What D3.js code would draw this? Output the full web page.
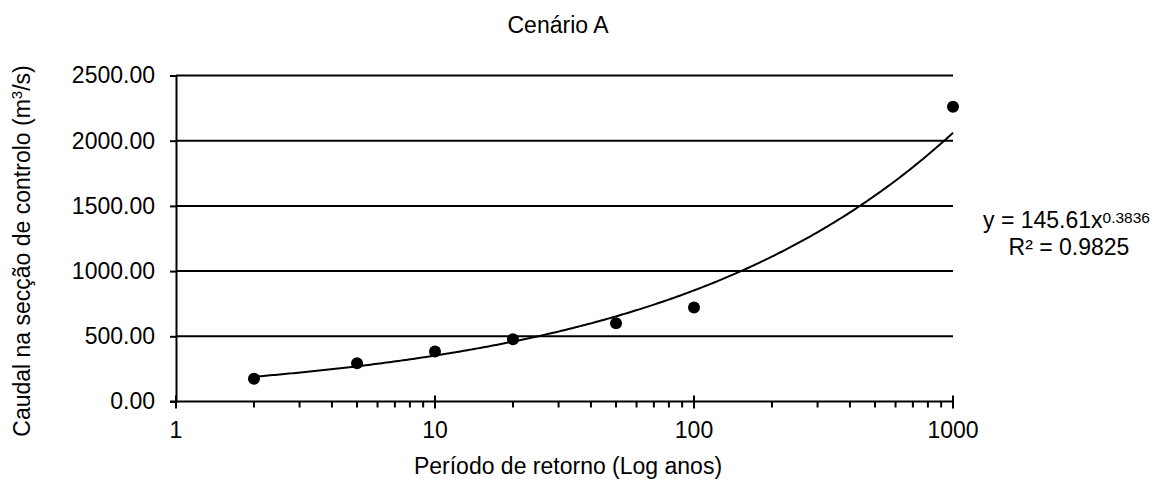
<!DOCTYPE html>
<html>
<head>
<meta charset="utf-8">
<script src="https://cdn.jsdelivr.net/npm/d3@7"></script>
<style>
  body { margin: 0; background: #fff; }
  svg { font-family: "Liberation Sans", Arial, sans-serif; }
</style>
</head>
<body>
<svg id="chart" width="1157" height="479"></svg>
<script>
// return periods (years) and flows (m3/s)
const periods = [2, 5, 10, 20, 50, 100, 1000];
const flows = [174, 294, 383, 477, 600, 720, 2260];
const yTicks = [0, 500, 1000, 1500, 2000, 2500];
const xTicks = [1, 10, 100, 1000];
const trendA = 145.61;
const trendB = 0.3836;
const r2 = 0.9825;

const svg = d3.select("#chart");
const plotLeft = 176, plotRight = 953, plotTop = 75.5, plotBottom = 401.5;
const fs = 23;

const x = d3.scaleLog().domain([1, 1000]).range([plotLeft, plotRight]);
const y = d3.scaleLinear().domain([0, 2500]).range([plotBottom, plotTop]);

// gridlines
svg.append("g")
    .selectAll("line")
    .data(yTicks.slice(1))
    .enter()
    .append("line")
    .attr("x1", plotLeft)
    .attr("x2", plotRight)
    .attr("y1", (d) => y(d))
    .attr("y2", (d) => y(d))
    .attr("stroke", "#000")
    .attr("stroke-width", 2);

// y axis
const yAxis = svg.append("g")
    .attr("transform", `translate(${plotLeft},0)`)
    .call(d3.axisLeft(y).tickValues(yTicks).tickFormat(d3.format(".2f")).tickSize(6).tickPadding(15));
yAxis.select(".domain").attr("stroke-width", 2);
yAxis.selectAll(".tick line").attr("stroke-width", 2);
yAxis.selectAll("text")
    .attr("font-size", fs)
    .attr("font-family", "Liberation Sans, Arial, sans-serif")
    .attr("fill", "#000");

// x axis, minor ticks
const minor = [];
for (let dec = 1; dec < 1000; dec *= 10) {
    for (let m = 2; m <= 9; m++) minor.push(dec * m);
}
const xAxis = svg.append("g")
    .attr("transform", `translate(0,${plotBottom})`);
xAxis.append("line")
    .attr("x1", plotLeft - 6).attr("x2", plotRight)
    .attr("stroke", "#000").attr("stroke-width", 2);
xAxis.selectAll(".minor")
    .data(minor)
    .enter()
    .append("line")
    .attr("x1", (d) => x(d)).attr("x2", (d) => x(d))
    .attr("y1", 0).attr("y2", 6)
    .attr("stroke", "#000").attr("stroke-width", 2);
xAxis.selectAll(".major")
    .data(xTicks)
    .enter()
    .append("line")
    .attr("x1", (d) => x(d)).attr("x2", (d) => x(d))
    .attr("y1", -6).attr("y2", 7)
    .attr("stroke", "#000").attr("stroke-width", 2);
xAxis.selectAll("text")
    .data(xTicks)
    .enter()
    .append("text")
    .attr("x", (d) => x(d))
    .attr("y", 36.5)
    .attr("text-anchor", "middle")
    .attr("font-size", fs)
    .text((d) => d);

// power trendline
const trend = d3.range(0, 301).map((i) => {
    const t = Math.pow(10, Math.log10(2) + i * (3 - Math.log10(2)) / 300);
    return [t, trendA * Math.pow(t, trendB)];
});
svg.append("path")
    .datum(trend)
    .attr("fill", "none")
    .attr("stroke", "#000")
    .attr("stroke-width", 2)
    .attr("d", d3.line().x((d) => x(d[0])).y((d) => y(d[1])));

// points
svg.append("g")
    .selectAll("circle")
    .data(periods)
    .enter()
    .append("circle")
    .attr("cx", (d) => x(d))
    .attr("cy", (d, i) => y(flows[i]))
    .attr("r", 6)
    .attr("fill", "#000");

// title and axis labels
svg.append("text")
    .attr("x", 558).attr("y", 33)
    .attr("text-anchor", "middle")
    .attr("font-size", fs)
    .text("Cenário A");

svg.append("text")
    .attr("x", 568).attr("y", 474)
    .attr("text-anchor", "middle")
    .attr("font-size", fs)
    .text("Período de retorno (Log anos)");

const yl = svg.append("text")
    .attr("transform", "translate(30,251) rotate(-90)")
    .attr("text-anchor", "middle")
    .attr("font-size", fs);
yl.append("tspan").text("Caudal na secção de controlo (m");
yl.append("tspan").attr("font-size", 15).attr("dy", -8).text("3");
yl.append("tspan").attr("dy", 8).text("/s)");

// equation label
const eq = svg.append("text")
    .attr("x", 983).attr("y", 228)
    .attr("font-size", fs);
eq.append("tspan").text(`y = ${trendA}x`);
eq.append("tspan").attr("font-size", 15.5).attr("dy", -5).text(trendB);

svg.append("text")
    .attr("x", 1069).attr("y", 255)
    .attr("text-anchor", "middle")
    .attr("font-size", fs)
    .text(`R² = ${r2}`);
</script>
</body>
</html>
